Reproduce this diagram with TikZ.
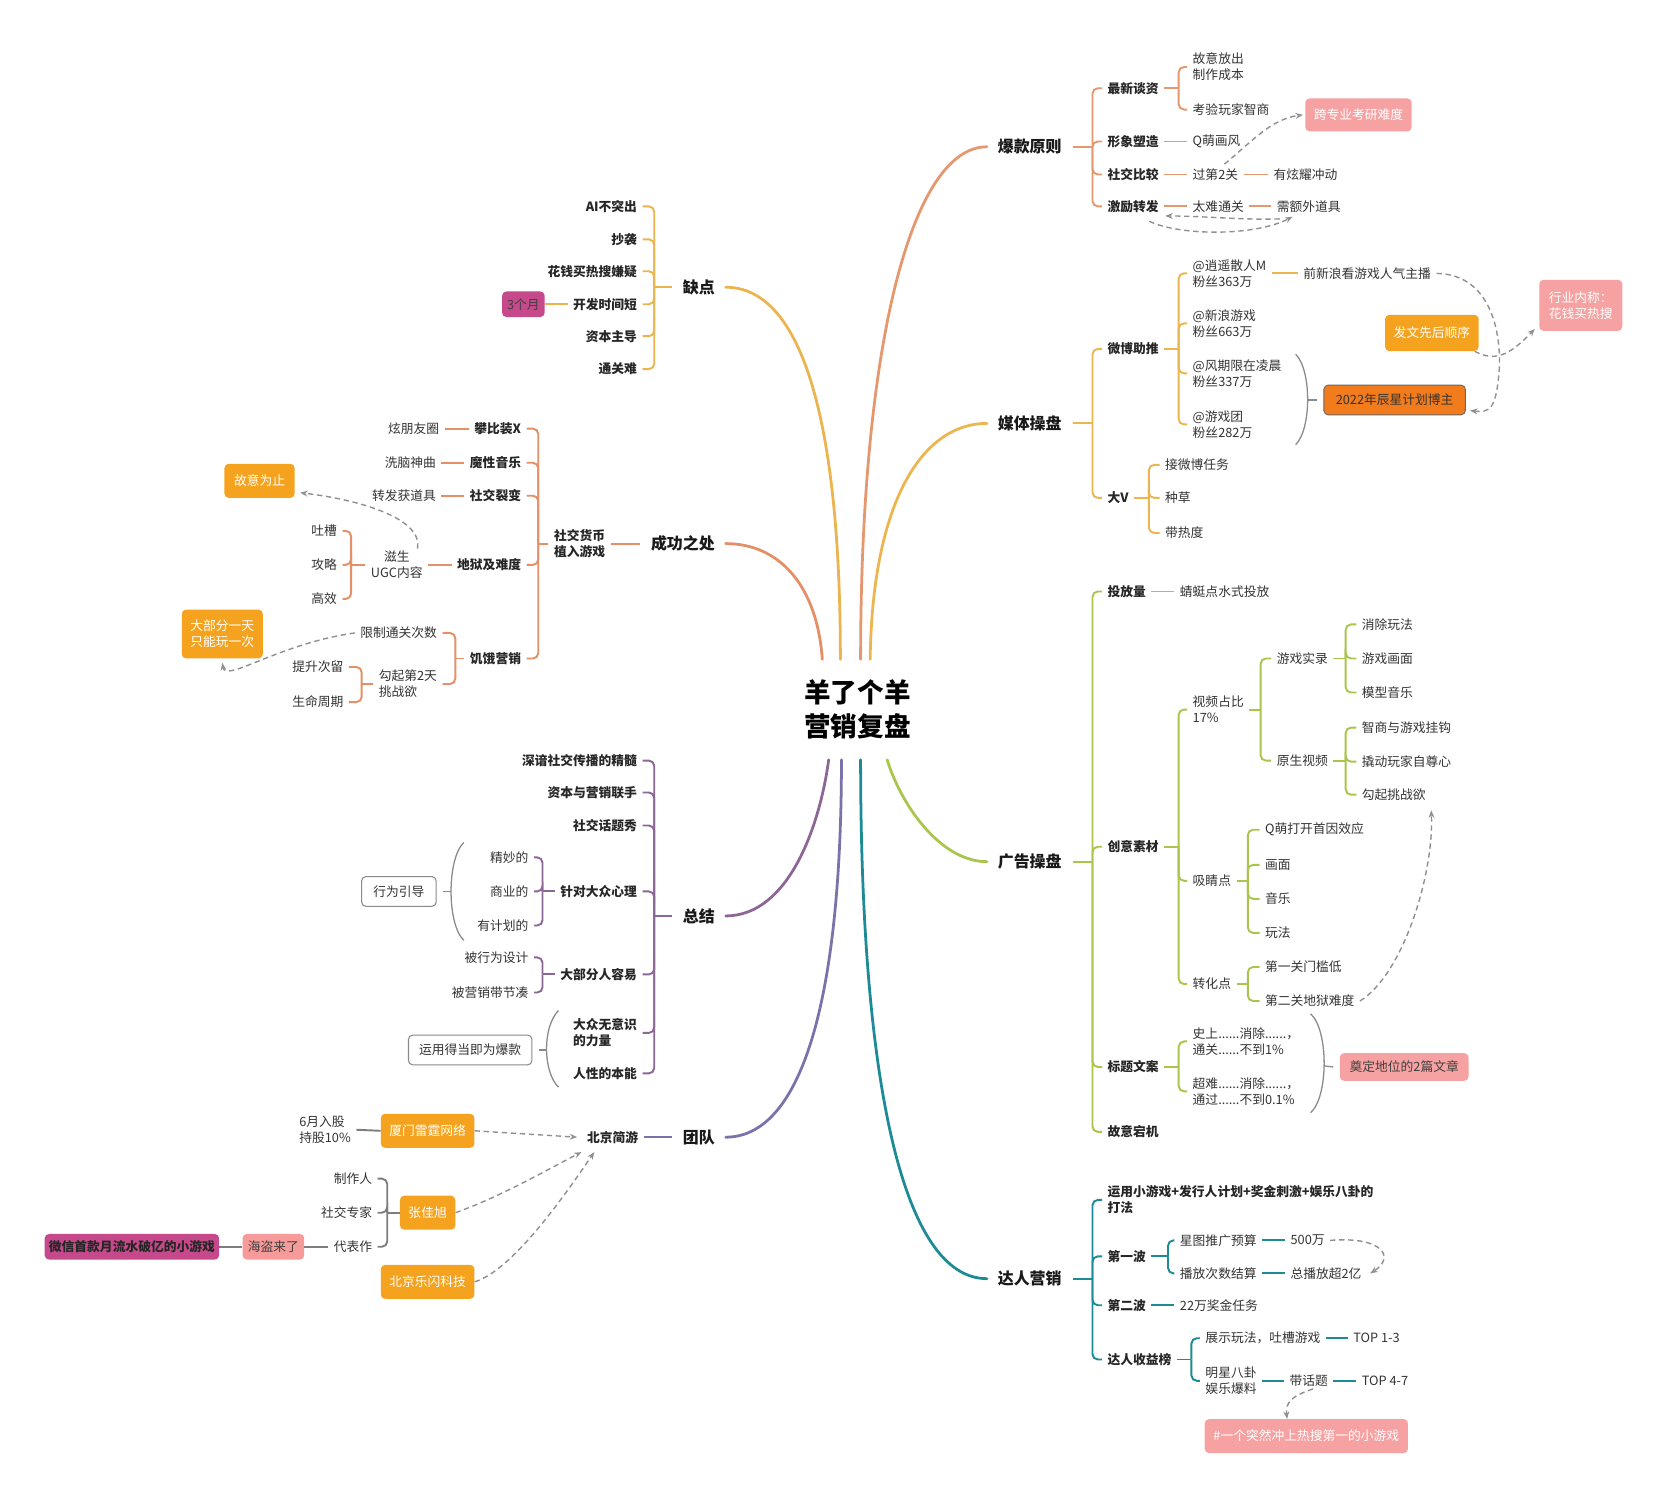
\documentclass[tikz,border=0pt]{standalone}
\usepackage{fontspec}
\setmainfont{Noto Sans CJK SC}
\usetikzlibrary{arrows.meta,calc}
\definecolor{cbk}{HTML}{E5976E}
\definecolor{cqd}{HTML}{EBB44F}
\definecolor{ccg}{HTML}{E58F66}
\definecolor{cmt}{HTML}{EDB550}
\definecolor{cgg}{HTML}{A9C54B}
\definecolor{czj}{HTML}{8C6795}
\definecolor{ctd}{HTML}{7C72A9}
\definecolor{cdr}{HTML}{1D8B96}
\definecolor{cteam}{HTML}{7D7D7D}
\definecolor{dgray}{HTML}{8F8F8F}
\definecolor{pgray}{HTML}{8A8A8A}
\definecolor{orgbox}{HTML}{F5A31F}
\definecolor{dorg}{HTML}{F27B1C}
\definecolor{pinkbox}{HTML}{F7A2A2}
\definecolor{magbox}{HTML}{C6498B}
\definecolor{txt}{HTML}{333333}

\newcommand\brR[4][]{%
  \draw[#1] let \p1=(#2.east) in (\p1) -- (#3,\y1) coordinate (tmpc);
  \foreach \ch in {#4}{\draw[#1,rounded corners=5pt] (tmpc) |- (\ch.west);}%
}
\newcommand\brL[4][]{%
  \draw[#1] let \p1=(#2.west) in (\p1) -- (#3,\y1) coordinate (tmpc);
  \foreach \ch in {#4}{\draw[#1,rounded corners=5pt] (tmpc) |- (\ch.east);}%
}

\tikzset{
 base/.style={font=\fontsize{12}{15}\selectfont, text=txt, inner xsep=5pt, inner ysep=2pt, align=left},
 nR/.style={base, anchor=west},
 nL/.style={base, anchor=east},
 bR/.style={nR, font=\fontsize{12}{15}\selectfont\bfseries, text=black!85},
 bL/.style={nL, font=\fontsize{12}{15}\selectfont\bfseries, text=black!85},
 mainlab/.style={font=\fontsize{15}{18}\selectfont\bfseries, text=black!90, inner xsep=10pt, inner ysep=3pt},
 trunk/.style={line width=2.6pt, line cap=round},
 sb/.style={line width=1.8pt},
 boxb/.style={rounded corners=4pt, font=\fontsize{12}{15}\selectfont, inner sep=0pt, align=center},
 obox/.style={boxb, fill=orgbox, text=white},
 pbox/.style={boxb, fill=pinkbox, text=white},
 wbox/.style={boxb, draw=pgray, line width=1pt, fill=white, text=txt},
 dsh/.style={draw=dgray, line width=1.3pt, dash pattern=on 5pt off 3.5pt, -{Stealth[length=7pt,width=5.5pt]}},
 paren/.style={draw=pgray, line width=1.2pt},
}

\begin{document}
\begin{tikzpicture}[x=1pt,y=-1pt]
\fill[white] (0,0) rectangle (1568,1410);
\useasboundingbox (0,0) rectangle (1568,1410);

% ---------- centre ----------
\node[font=\fontsize{25}{32}\selectfont\bfseries, align=center, minimum height=94pt, inner sep=0pt, text=black] (title) at (806,667) {羊了个羊\\营销复盘};

\node[mainlab] (bk) at (968,138) {爆款原则};
\node[mainlab] (mt) at (968,398) {媒体操盘};
\node[mainlab] (gg) at (968,810) {广告操盘};
\node[mainlab] (dr) at (968,1202) {达人营销};
\node[mainlab] (qd) at (657,270) {缺点};
\node[mainlab] (cg) at (642,511) {成功之处};
\node[mainlab] (zj) at (657,861) {总结};
\node[mainlab] (td) at (657,1069) {团队};

\draw[trunk,cbk] ([xshift=3pt]title.north) .. controls +(0,-300) and +(-70,0) .. (bk.west);
\draw[trunk,cmt] ([xshift=12pt]title.north) .. controls +(2,-150) and +(-60,0) .. (mt.west);
\draw[trunk,cqd] ([xshift=-16pt]title.north) .. controls +(0,-230) and +(70,0) .. (qd.east);
\draw[trunk,ccg] ([xshift=-33pt]title.north) .. controls +(-5,-70) and +(50,0) .. (cg.east);
\draw[trunk,czj] ([xshift=-27pt]title.south) .. controls +(-8,60) and +(60,0) .. (zj.east);
\draw[trunk,ctd] ([xshift=-15pt]title.south) .. controls +(0,230) and +(70,0) .. (td.east);
\draw[trunk,cdr] ([xshift=3pt]title.south) .. controls +(0,300) and +(-80,0) .. (dr.west);
\draw[trunk,cgg] ([xshift=28pt]title.south) .. controls +(12,40) and +(-45,0) .. (gg.west);

% ---------- 爆款原则 ----------
\node[bR] (bk1) at (1036,83) {最新谈资};
\node[bR] (bk2) at (1036,133) {形象塑造};
\node[bR] (bk3) at (1036,164) {社交比较};
\node[bR] (bk4) at (1036,194) {激励转发};
\node[nR] (bk11) at (1116,63) {故意放出\\制作成本};
\node[nR] (bk12) at (1116,103) {考验玩家智商};
\node[nR] (bk21) at (1116,133) {Q萌画风};
\node[nR] (bk31) at (1116,164) {过第2关};
\node[nR] (bk32) at (1192,164) {有炫耀冲动};
\node[nR] (bk41) at (1116,194) {太难通关};
\node[nR] (bk42) at (1195,194) {需额外道具};
\node[pbox, minimum width=100pt, minimum height=31pt] (kz) at (1277,108) {跨专业考研难度};

\brR[sb,cbk]{bk}{1027}{bk1,bk2,bk3,bk4}
\brR[sb,cbk]{bk1}{1108}{bk11,bk12}
\draw[sb,cbk] (bk2.east) -- (bk21.west);
\draw[sb,cbk] (bk3.east) -- (bk31.west);
\draw[sb,cbk] (bk31.east) -- (bk32.west);
\draw[sb,cbk] (bk4.east) -- (bk41.west);
\draw[sb,cbk] (bk41.east) -- (bk42.west);

\draw[dsh] ([xshift=-18pt,yshift=2pt]bk31.north east) .. controls (1178,132) and (1195,112) .. ([xshift=-2pt]kz.west);
\draw[dsh] ([xshift=8pt,yshift=-4pt]bk42.south west) .. controls (1170,207) and (1130,203) .. ([xshift=1pt,yshift=-1pt]bk4.south east);
\draw[dsh] ([xshift=-14pt,yshift=-6pt]bk4.south east) .. controls (1110,222) and (1180,222) .. ([xshift=20pt,yshift=-2pt]bk42.south west);

% ---------- 媒体操盘 ----------
\node[bR] (mt1) at (1036,328) {微博助推};
\node[bR] (mt2) at (1036,468) {大V};
\node[nR] (mt11) at (1116,257) {@逍遥散人M\\粉丝363万};
\node[nR] (mt12) at (1116,304) {@新浪游戏\\粉丝663万};
\node[nR] (mt13) at (1116,351) {@风期限在凌晨\\粉丝337万};
\node[nR] (mt14) at (1116,399) {@游戏团\\粉丝282万};
\node[nR] (mt111) at (1220,257) {前新浪看游戏人气主播};
\node[nR] (mt21) at (1090,437) {接微博任务};
\node[nR] (mt22) at (1090,468) {种草};
\node[nR] (mt23) at (1090,501) {带热度};
\node[boxb, fill=dorg, draw=gray!80!black, line width=0.8pt, text=black!80, minimum width=133pt, minimum height=28pt] (cx) at (1311,376) {2022年辰星计划博主};
\node[obox, minimum width=88pt, minimum height=34pt] (fw) at (1346,313) {发文先后顺序};
\node[pbox, minimum width=78pt, minimum height=48pt, align=left] (hy) at (1486,287) {行业内称：\\花钱买热搜};

\brR[sb,cmt]{mt}{1027}{mt1,mt2}
\brR[sb,cmt]{mt1}{1108}{mt11,mt12,mt13,mt14}
\draw[sb,cmt] (mt11.east) -- (mt111.west);
\brR[sb,cmt]{mt2}{1080}{mt21,mt22,mt23}

\draw[paren] (1218,333) .. controls (1233,348) and (1233,403) .. (1218,418);
\coordinate (pm1) at (1229,376);
\draw[paren] (pm1) -- ([xshift=-6pt]cx.west);

\draw[dsh] (mt111.east) .. controls (1405,258) and (1412,320) .. (1409,352) .. controls (1406,385) and (1400,388) .. ([xshift=4pt,yshift=-10pt]cx.east);
\draw[dsh] ([xshift=-4pt]fw.south east) .. controls (1405,340) and (1418,335) .. ([xshift=-4pt,yshift=2pt]hy.south west);

% ---------- 广告操盘 ----------
\node[bR] (gg1) at (1036,556) {投放量};
\node[bR] (gg2) at (1036,796) {创意素材};
\node[bR] (gg3) at (1036,1003) {标题文案};
\node[bR] (gg4) at (1036,1064) {故意宕机};
\node[nR] (gg11) at (1104,556) {蜻蜓点水式投放};
\node[nR] (gg21) at (1116,667) {视频占比\\17\%};
\node[nR] (gg22) at (1116,828) {吸睛点};
\node[nR] (gg23) at (1116,925) {转化点};
\node[nR] (gg211) at (1195,619) {游戏实录};
\node[nR] (gg212) at (1195,715) {原生视频};
\node[nR] (a1) at (1275,587) {消除玩法};
\node[nR] (a2) at (1275,619) {游戏画面};
\node[nR] (a3) at (1275,651) {模型音乐};
\node[nR] (b1) at (1275,684) {智商与游戏挂钩};
\node[nR] (b2) at (1275,716) {撬动玩家自尊心};
\node[nR] (b3) at (1275,747) {勾起挑战欲};
\node[nR] (e1) at (1184,780) {Q萌打开首因效应};
\node[nR] (e2) at (1184,813) {画面};
\node[nR] (e3) at (1184,845) {音乐};
\node[nR] (e4) at (1184,877) {玩法};
\node[nR] (f1) at (1184,909) {第一关门槛低};
\node[nR] (f2) at (1184,941) {第二关地狱难度};
\node[nR] (tt1) at (1116,979) {史上......消除......，\\通关......不到1\%};
\node[nR] (tt2) at (1116,1026) {超难......消除......，\\通过......不到0.1\%};
\node[boxb, fill=pinkbox, text=black!75, minimum width=121pt, minimum height=26pt] (dd) at (1320,1003) {奠定地位的2篇文章};

\brR[sb,cgg]{gg}{1027}{gg1,gg2,gg3,gg4}
\draw[sb,cgg] (gg1.east) -- (gg11.west);
\brR[sb,cgg]{gg2}{1108}{gg21,gg22,gg23}
\brR[sb,cgg]{gg21}{1185}{gg211,gg212}
\brR[sb,cgg]{gg211}{1265}{a1,a2,a3}
\brR[sb,cgg]{gg212}{1265}{b1,b2,b3}
\brR[sb,cgg]{gg22}{1173}{e1,e2,e3,e4}
\brR[sb,cgg]{gg23}{1173}{f1,f2}
\brR[sb,cgg]{gg3}{1108}{tt1,tt2}

\draw[paren] (1232,953) .. controls (1249,968) and (1249,1031) .. (1232,1046);
\coordinate (pm2) at (1245,1002);
\draw[paren] (pm2) -- ([xshift=-6pt]dd.west);

\draw[dsh] (f2.east) .. controls (1320,915) and (1348,820) .. ([yshift=-7pt]b3.south east);

% ---------- 达人营销 ----------
\node[bR] (dr1) at (1036,1128) {运用小游戏+发行人计划+奖金刺激+娱乐八卦的\\打法};
\node[bR] (dr2) at (1036,1181) {第一波};
\node[bR] (dr3) at (1036,1227) {第二波};
\node[bR] (dr4) at (1036,1278) {达人收益榜};
\node[nR] (dr21) at (1104,1166) {星图推广预算};
\node[nR] (dr211) at (1208,1166) {500万};
\node[nR] (dr22) at (1104,1197) {播放次数结算};
\node[nR] (dr221) at (1208,1197) {总播放超2亿};
\node[nR] (dr31) at (1104,1227) {22万奖金任务};
\node[nR] (dr41) at (1128,1258) {展示玩法，吐槽游戏};
\node[nR] (dr411) at (1267,1258) {TOP 1-3};
\node[nR] (dr42) at (1128,1298) {明星八卦\\娱乐爆料};
\node[nR] (dr421) at (1207,1298) {带话题};
\node[nR] (dr4211) at (1275,1298) {TOP 4-7};
\node[pbox, minimum width=191pt, minimum height=32pt] (rs) at (1228,1350) {\#一个突然冲上热搜第一的小游戏};

\brR[sb,cdr]{dr}{1027}{dr1,dr2,dr3,dr4}
\brR[sb,cdr]{dr2}{1098}{dr21,dr22}
\draw[sb,cdr] (dr21.east) -- (dr211.west);
\draw[sb,cdr] (dr22.east) -- (dr221.west);
\draw[sb,cdr] (dr3.east) -- (dr31.west);
\brR[sb,cdr]{dr4}{1120}{dr41,dr42}
\draw[sb,cdr] (dr41.east) -- (dr411.west);
\draw[sb,cdr] (dr42.east) -- (dr421.west);
\draw[sb,cdr] (dr421.east) -- (dr4211.west);

\draw[dsh] (dr211.east) .. controls (1300,1162) and (1312,1182) .. ([xshift=3pt]dr221.east);
\draw[dsh] ([xshift=4pt]dr421.south) .. controls (1215,1312) and (1208,1318) .. ([xshift=-18pt]rs.north);

% ---------- 缺点 ----------
\node[bL] (qd1) at (604,194) {AI不突出};
\node[bL] (qd2) at (604,225) {抄袭};
\node[bL] (qd3) at (604,255) {花钱买热搜嫌疑};
\node[bL] (qd4) at (604,286) {开发时间短};
\node[bL] (qd5) at (604,316) {资本主导};
\node[bL] (qd6) at (604,347) {通关难};
\node[boxb, fill=magbox, text=black!75, minimum width=40pt, minimum height=24pt] (m3) at (492,286) {3个月};

\brL[sb,cqd]{qd}{615}{qd1,qd2,qd3,qd4,qd5,qd6}
\draw[sb,cqd] (qd4.west) -- (m3.east);

% ---------- 成功之处 ----------
\node[bL] (cg1) at (574,511) {社交货币\\植入游戏};
\node[bL] (s1) at (495,403) {攀比装X};
\node[bL] (s2) at (495,435) {魔性音乐};
\node[bL] (s3) at (495,466) {社交裂变};
\node[bL] (s4) at (495,531) {地狱及难度};
\node[bL] (s5) at (495,619) {饥饿营销};
\node[nL] (s11) at (418,403) {炫朋友圈};
\node[nL] (s21) at (415,435) {洗脑神曲};
\node[nL] (s31) at (415,466) {转发获道具};
\node[base, align=center] (s41) at (373,531) {滋生\\UGC内容};
\node[nL] (s411) at (322,499) {吐槽};
\node[nL] (s412) at (322,531) {攻略};
\node[nL] (s413) at (322,563) {高效};
\node[nL] (s51) at (416,595) {限制通关次数};
\node[nL] (s52) at (416,643) {勾起第2天\\挑战欲};
\node[nL] (s521) at (328,627) {提升次留};
\node[nL] (s522) at (328,660) {生命周期};
\node[obox, minimum width=66pt, minimum height=32pt] (gy) at (244,452) {故意为止};
\node[obox, minimum width=76pt, minimum height=46pt] (db) at (209,596) {大部分一天\\只能玩一次};

\draw[sb,ccg] (cg.west) -- (cg1.east);
\brL[sb,ccg]{cg1}{506}{s1,s2,s3,s4,s5}
\draw[sb,ccg] (s1.west) -- (s11.east);
\draw[sb,ccg] (s2.west) -- (s21.east);
\draw[sb,ccg] (s3.west) -- (s31.east);
\draw[sb,ccg] (s4.west) -- (s41.east);
\brL[sb,ccg]{s41}{330}{s411,s412,s413}
\brL[sb,ccg]{s5}{428}{s51,s52}
\brL[sb,ccg]{s52}{340}{s521,s522}

\draw[dsh] ([xshift=-10pt]s41.north east) .. controls (398,488) and (340,470) .. ([xshift=5pt,yshift=5pt]gy.south east);
\draw[dsh] (s51.west) .. controls (262,605) and (212,642) .. ([yshift=-4pt]db.south);

% ---------- 总结 ----------
\node[bL] (z1) at (604,715) {深谙社交传播的精髓};
\node[bL] (z2) at (604,745) {资本与营销联手};
\node[bL] (z3) at (604,776) {社交话题秀};
\node[bL] (z4) at (604,838) {针对大众心理};
\node[bL] (z5) at (604,916) {大部分人容易};
\node[bL] (z6) at (604,971) {大众无意识\\的力量};
\node[bL] (z7) at (604,1009) {人性的本能};
\node[nL] (z41) at (502,806) {精妙的};
\node[nL] (z42) at (502,838) {商业的};
\node[nL] (z43) at (502,870) {有计划的};
\node[nL] (z51) at (502,900) {被行为设计};
\node[nL] (z52) at (502,933) {被营销带节凑};
\node[wbox, minimum width=70pt, minimum height=28pt] (xw) at (375,838) {行为引导};
\node[wbox, minimum width=116pt, minimum height=28pt] (yy) at (442,987) {运用得当即为爆款};

\brL[sb,czj]{zj}{615}{z1,z2,z3,z4,z5,z6,z7}
\brL[sb,czj]{z4}{510}{z41,z42,z43}
\brL[sb,czj]{z5}{510}{z51,z52}

\draw[paren] (436,792) .. controls (420,807) and (420,869) .. (436,884);
\coordinate (pm3) at (424,838);
\draw[paren] (pm3) -- ([xshift=6pt]xw.east);
\draw[paren] (525,950) .. controls (510,965) and (510,1007) .. (525,1022);
\coordinate (pm4) at (514,987);
\draw[paren] (pm4) -- ([xshift=6pt]yy.east);

% ---------- 团队 ----------
\node[bL] (bj) at (605,1069) {北京简游};
\node[obox, minimum width=88pt, minimum height=32pt] (xm) at (402,1063) {厦门雷霆网络};
\node[nL] (xm1) at (335,1062) {6月入股\\持股10\%};
\node[obox, minimum width=52pt, minimum height=32pt] (zjx) at (402,1140) {张佳旭};
\node[nL] (p1) at (355,1108) {制作人};
\node[nL] (p2) at (355,1140) {社交专家};
\node[nL] (p3) at (355,1172) {代表作};
\node[boxb, fill=pinkbox!95!red, text=black!75, minimum width=58pt, minimum height=24pt] (hd) at (257,1172) {海盗来了};
\node[boxb, fill=magbox, text=black!85, font=\fontsize{12}{15}\selectfont\bfseries, minimum width=164pt, minimum height=24pt] (wx) at (124,1172) {微信首款月流水破亿的小游戏};
\node[obox, minimum width=88pt, minimum height=32pt] (lx) at (402,1205) {北京乐闪科技};

\draw[sb,ctd] (td.west) -- (bj.east);
\draw[sb,cteam] (xm.west) -- (xm1.east);
\brL[sb,cteam]{zjx}{364}{p1,p2,p3}
\draw[sb,cteam] (p3.west) -- (hd.east);
\draw[sb,cteam] (hd.west) -- (wx.east);

\draw[dsh] (xm.east) -- ([xshift=-4pt]bj.west);
\draw[dsh] (zjx.east) .. controls (470,1125) and (510,1102) .. ([yshift=-6pt]bj.south west);
\draw[dsh] (lx.east) .. controls (478,1195) and (520,1140) .. ([xshift=12pt,yshift=-6pt]bj.south west);

\end{tikzpicture}
\end{document}
